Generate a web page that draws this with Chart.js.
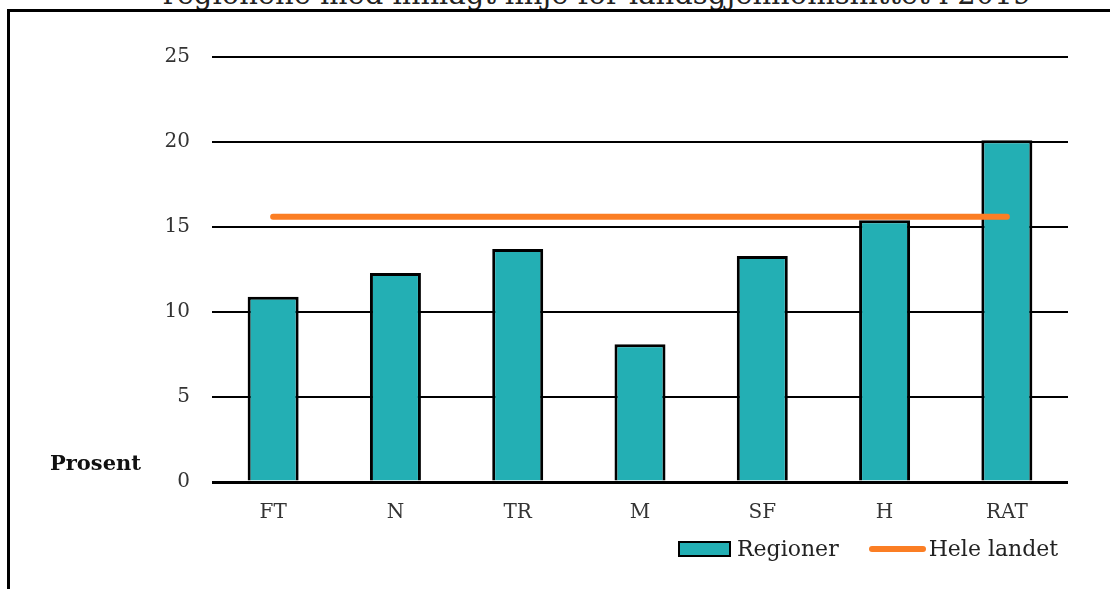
<!DOCTYPE html>
<html>
<head>
<meta charset="utf-8">
<script src="https://cdn.jsdelivr.net/npm/chart.js@4.4.0/dist/chart.umd.min.js"></script>
<style>
    body { margin: 0; background: #fff; font-family: 'DejaVu Serif', serif; }
    #wrap { position: relative; width: 1110px; height: 589px; overflow: hidden; }
    #frame { position: absolute; left: 7px; top: 9px; width: 2000px; height: 800px;
             border-left: 3px solid #000; border-top: 3px solid #000; }
    #title { position: absolute; left: 0; width: 1194px; top: -22px; text-align: center;
             font-size: 29px; line-height: 32px; color: #222; white-space: nowrap; }
    #ylabel { position: absolute; left: 50px; top: 450px; font-size: 21px; font-weight: bold; color: #111; }
    #legend { position: absolute; left: 678px; top: 536px; display: flex; align-items: center;
              font-size: 22px; color: #222; }
    .legend-item { display: flex; align-items: center; }
    .legend-box { width: 49px; height: 12px; border: 2px solid #000; background: #23afb4; margin-right: 6px; }
    .legend-line { width: 57px; height: 6px; border-radius: 3px; background: #fb7e24; margin-right: 3px; }
    canvas { position: absolute; left: 0; top: 0; }
</style>
</head>
<body>
<div id="wrap">
    <div id="title">regionene med innlagt linje for landsgjennomsnittet i 2019</div>
    <div id="frame"></div>
    <canvas id="chart" width="1110" height="589"></canvas>
    <div id="ylabel">Prosent</div>
    <div id="legend">
        <div class="legend-item" style="margin-right:30px"><span class="legend-box"></span>Regioner</div>
        <div class="legend-item"><span class="legend-line"></span>Hele landet</div>
    </div>
</div>
<script>
// Data
const categories = ['FT', 'N', 'TR', 'M', 'SF', 'H', 'RAT'];
const regionValues = [10.9, 12.3, 13.7, 8.1, 13.3, 15.4, 20.1];
const nationalValues = [15.6, 15.6, 15.6, 15.6, 15.6, 15.6, 15.6];
const yTicks = [0, 5, 10, 15, 20, 25];

const teal = '#23afb4';
const orange = '#fb7e24';

const ctx = document.getElementById('chart').getContext('2d');

new Chart(ctx, {
    type: 'bar',
    data: {
        labels: categories,
        datasets: [
            {
                type: 'line',
                label: 'Hele landet',
                data: nationalValues,
                borderColor: orange,
                borderWidth: 6,
                borderCapStyle: 'round',
                pointRadius: 0,
                fill: false,
                order: 0
            },
            {
                label: 'Regioner',
                data: regionValues,
                backgroundColor: teal,
                borderColor: '#000',
                borderWidth: 3,
                categoryPercentage: 1,
                barPercentage: 0.417,
                order: 1
            }
        ]
    },
    options: {
        responsive: false,
        animation: false,
        layout: { padding: { left: 0, right: 42, top: 57, bottom: 47 } },
        plugins: {
            legend: { display: false },
            tooltip: { enabled: false }
        },
        scales: {
            x: {
                grid: { display: false },
                border: { display: false },
                ticks: { color: '#333', font: { family: 'DejaVu Serif', size: 20 }, padding: 11 },
                afterFit: scale => {
                    scale.height = 60;
                    scale.paddingLeft = 0;
                    scale.paddingRight = 0;
                }
            },
            y: {
                min: 0,
                max: 25,
                afterBuildTicks: scale => {
                    scale.ticks = yTicks.map(v => ({ value: v }));
                },
                ticks: { color: '#333', font: { family: 'DejaVu Serif', size: 20 }, padding: 22 },
                grid: {
                    color: '#000',
                    lineWidth: c => (c.tick && c.tick.value === 0 ? 3 : 2),
                    drawTicks: false
                },
                border: { display: false },
                afterFit: scale => {
                    scale.width = 212;
                    scale.paddingTop = 0;
                    scale.paddingBottom = 0;
                }
            }
        }
    }
});
</script>
</body>
</html>
